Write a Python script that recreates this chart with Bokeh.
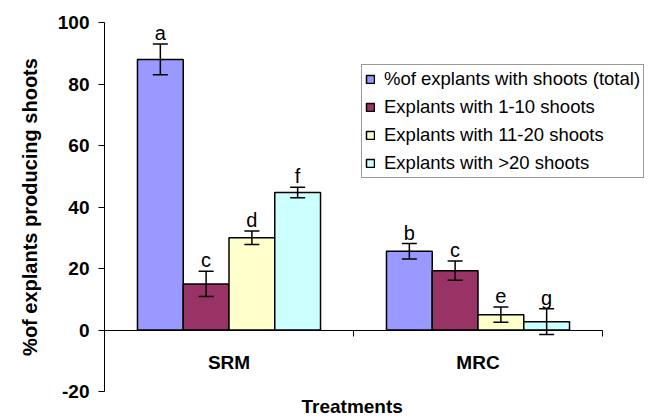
from bokeh.plotting import figure
from bokeh.models import (ColumnDataSource, Range1d, LinearAxis, FixedTicker, Whisker,
                          TeeHead, Legend, LegendItem, Title)
from bokeh.transform import dodge
from bokeh.core.properties import value
from bokeh.embed import file_html
from bokeh.resources import INLINE

# ---------------- data ----------------
categories = ["SRM", "MRC"]
series_names = ["%of explants with shoots (total)", "Explants with 1-10 shoots",
                "Explants with 11-20 shoots", "Explants with >20 shoots"]
total = [88.0, 25.6]
total_err = [5.0, 2.5]
shoots_1_10 = [15.0, 19.3]
shoots_1_10_err = [4.1, 3.1]
shoots_11_20 = [30.0, 5.0]
shoots_11_20_err = [2.2, 2.5]
shoots_gt20 = [44.7, 2.7]
shoots_gt20_err = [1.7, 4.2]
letters_total = ["a", "b"]
letters_1_10 = ["c", "c"]
letters_11_20 = ["d", "e"]
letters_gt20 = ["f", "g"]
y_ticks = [-20, 0, 20, 40, 60, 80, 100]

colors = ["#9999FF", "#993366", "#FFFFCC", "#CCFFFF"]
FONT = "Liberation Sans"

series = [
    (total, total_err, letters_total),
    (shoots_1_10, shoots_1_10_err, letters_1_10),
    (shoots_11_20, shoots_11_20_err, letters_11_20),
    (shoots_gt20, shoots_gt20_err, letters_gt20),
]

n_cat = len(categories)
xs = [i + 0.5 for i in range(n_cat)]
bar_w = 0.1838
n_ser = len(series)

# frame spans 104..651 px; the category area (0..n_cat) spans 104..602 px
frame_w = 547
cat_w = 498

p = figure(width=651, height=419, output_backend="svg", toolbar_location=None,
           x_range=Range1d(0, n_cat * frame_w / cat_w), y_range=Range1d(-20, 100),
           x_axis_type=None,
           min_border_left=104, min_border_right=0, min_border_top=22, min_border_bottom=27)
p.outline_line_color = None
p.xgrid.visible = False
p.ygrid.visible = False
p.background_fill_color = "white"
p.border_fill_color = "white"

# y axis
ya = p.yaxis[0]
ya.ticker = FixedTicker(ticks=y_ticks)
ya.major_label_overrides = {t: str(t) for t in y_ticks}
ya.major_tick_out = 6
ya.major_tick_in = 0
ya.minor_tick_out = 0
ya.minor_tick_in = 0
ya.axis_line_color = "black"
ya.major_tick_line_color = "black"
ya.major_label_text_font = FONT
ya.major_label_text_font_style = "bold"
ya.major_label_text_font_size = "19px"
ya.major_label_text_color = "black"
ya.major_label_standoff = 9
ya.axis_label = "%of explants producing shoots"
ya.axis_label_text_font = FONT
ya.axis_label_text_font_style = "bold"
ya.axis_label_text_font_size = "20px"
ya.axis_label_text_color = "black"
ya.axis_label_standoff = 14

# x axis line at zero with ticks at category boundaries
ax_line = LinearAxis(fixed_location=0, bounds=(0, n_cat),
                     ticker=FixedTicker(ticks=list(range(n_cat + 1))),
                     major_tick_out=6, major_tick_in=0,
                     minor_tick_out=0, minor_tick_in=0,
                     axis_line_color="black", major_tick_line_color="black",
                     major_label_text_color=None)
p.add_layout(ax_line, "below")

# category labels
ax_cat = LinearAxis(fixed_location=0, ticker=FixedTicker(ticks=xs),
                    major_label_overrides={x: c for x, c in zip(xs, categories)},
                    major_tick_out=0, major_tick_in=0, minor_tick_out=0, minor_tick_in=0,
                    axis_line_color=None, major_tick_line_color=None,
                    major_label_standoff=22,
                    major_label_text_font=FONT, major_label_text_font_style="bold",
                    major_label_text_font_size="19px", major_label_text_color="black")
p.add_layout(ax_cat, "below")

# x axis title, centred under the category area
xtitle = Title(text="Treatments", align="left", offset=197, standoff=5,
               text_font=FONT, text_font_style="bold", text_font_size="19px",
               text_color="black")
p.add_layout(xtitle, "below")

items = []
for k, ((vals, errs, letters), color, name) in enumerate(zip(series, colors, series_names)):
    off = (k - (n_ser - 1) / 2) * bar_w
    src = ColumnDataSource(dict(
        x=xs, top=vals,
        upper=[v + e for v, e in zip(vals, errs)],
        lower=[v - e for v, e in zip(vals, errs)],
        letter=letters))
    r = p.vbar(x=dodge("x", off, range=p.x_range), top="top", bottom=0, width=bar_w,
               source=src, fill_color=color, line_color="black", line_width=1.5)
    w = Whisker(source=src, base=dodge("x", off, range=p.x_range), upper="upper", lower="lower",
                line_color="black", line_width=1.5, level="overlay",
                upper_head=TeeHead(size=15, line_width=1.5, line_color="black"),
                lower_head=TeeHead(size=15, line_width=1.5, line_color="black"))
    p.add_layout(w)
    p.text(x=dodge("x", off, range=p.x_range), y="upper", text="letter", source=src,
           text_align="center", text_baseline="alphabetic", y_offset=-11,
           text_font=value(FONT), text_font_size="20px", text_color="black")
    items.append(LegendItem(label=name, renderers=[r]))

legend = Legend(items=items, location=(257, 213),
                border_line_color="#333333", border_line_width=1,
                background_fill_color="white", background_fill_alpha=1,
                label_text_font=FONT, label_text_font_size="18.5px", label_text_color="black",
                glyph_width=10, glyph_height=10, label_standoff=9,
                padding=3, spacing=6, label_height=21, margin=0)
p.add_layout(legend)

open("out.html", "w").write(file_html(p, INLINE))
